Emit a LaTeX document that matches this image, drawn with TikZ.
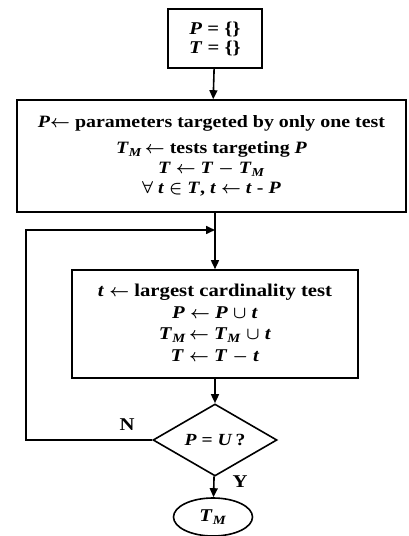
\documentclass[tikz,border=0pt]{standalone}
\usepackage{fontspec}
\setmainfont[FakeStretch=1.15]{Liberation Serif}
\usetikzlibrary{shapes.geometric,arrows.meta}
\newcommand{\mv}[1]{\textbf{\textit{#1}}}
\newcommand{\mvTM}{\mv{T}\textsubscript{\mv{M}}}
\newcommand{\fs}[2]{\fontsize{#1}{#2}\selectfont\bfseries\boldmath}
\begin{document}
\begin{tikzpicture}[x=1pt,y=1pt,
  every node/.style={font=\fs{18}{21}},
  box/.style={draw,line width=1.6pt,align=center,inner sep=0pt},
  conn/.style={line width=1.6pt,-{Triangle[length=9pt,width=8pt]}},
  plain/.style={line width=1.6pt}]
\useasboundingbox (0,0) rectangle (409,536);
\node[box,minimum width=94pt,minimum height=59pt,font=\fs{18}{19}] (init) at (215,497.5)
  {\mv{P} = \{\}\\\mv{T} = \{\}};
\node[box,minimum width=389pt,minimum height=112pt,font=\fs{17.3}{19.5}] (prep) at (211.5,380)
  {\mv{P}$\leftarrow$ parameters targeted by only one test\\[6pt]
   \mvTM\,$\leftarrow$ tests targeting \mv{P}\\[1pt]
   \mv{T} $\leftarrow$ \mv{T} $-$ \mvTM\\
   $\forall$ \mv{t} $\in$ \mv{T}, \mv{t} $\leftarrow$ \mv{t} - \mv{P}};
\node[box,minimum width=286pt,minimum height=108pt,font=\fs{18}{21.5}] (loop) at (215,212)
  {\mv{t} $\leftarrow$ largest cardinality test\\
   \mv{P} $\leftarrow$ \mv{P} $\cup$ \mv{t}\\
   \mvTM\,$\leftarrow$ \mvTM\ $\cup$ \mv{t}\\
   \mv{T} $\leftarrow$ \mv{T} $-$ \mv{t}};
\node[draw,diamond,line width=1.6pt,inner sep=0pt,minimum width=124pt,minimum height=50pt,font=\fs{17}{19}] (dec) at (215,96)
  {\mv{P} = \mv{U}\,?};
\node[draw,ellipse,line width=1.6pt,inner sep=0pt,minimum width=79pt,minimum height=38pt] (out) at (213,19)
  {\mvTM};
\coordinate (join) at (215,306);
\coordinate (lb) at (26,96);
\coordinate (lt) at (26,306);
\draw[conn] (init) -- (prep);
\draw[plain] (prep.south -| join) -- (join);
\draw[conn] (join) -- (loop.north);
\draw[conn] (loop) -- (dec);
\draw[conn] (dec) -- (out);
\draw[conn] (dec.west) -- (lb) -- (lt) -- (join);
\node (N) at (127,111) {N};
\node (Y) at (240,54) {Y};
\end{tikzpicture}
\end{document}
